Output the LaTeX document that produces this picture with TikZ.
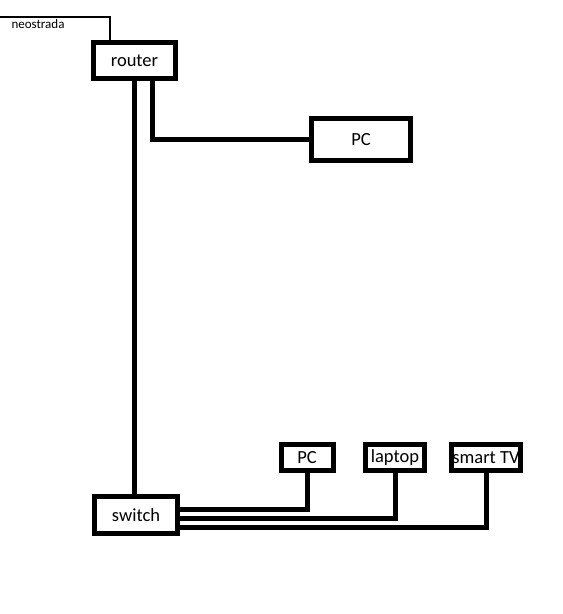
\documentclass[tikz,border=0pt]{standalone}
\usepackage{fontspec}
\setmainfont{Carlito}
\begin{document}
\begin{tikzpicture}[x=1pt,y=-1pt,
    box/.style={draw,line width=5pt,inner sep=0pt,font=\fontsize{18.5}{20}\selectfont},
    cable/.style={line width=5pt,line cap=rect}]
    \useasboundingbox (0,0) rectangle (563,614);

    % Devices
    \node[box,minimum width=82pt,minimum height=36pt] (router) at (134.5,60.5) {router};
    \node[box,minimum width=99pt,minimum height=42pt] (pc1) at (361,139.5) {PC};
    \node[box,minimum width=83pt,minimum height=37pt] (switch) at (136,515) {switch};
    \node[box,minimum width=52pt,minimum height=26pt] (pc2) at (307,457.5) {PC};
    \node[box,minimum width=59pt,minimum height=26pt] (laptop) at (395,457.5) {laptop};
    \node[box,minimum width=69pt,minimum height=26pt] (tv) at (486,457.5) {smart TV};

    % Uplink
    \coordinate (isp) at (0,17);
    \draw[line width=2.5pt] (isp) -| ([xshift=-24.5pt]router.north);
    \node[font=\fontsize{13}{14}\selectfont] (neo) at (38,24) {neostrada};

    % Cables
    \draw[cable] (router.south) -- (router.south |- switch.north);
    \draw[cable] ([xshift=17.5pt]router.south) |- (pc1.west);
    \draw[cable] ([yshift=6pt]switch.east) -| (pc2.south);
    \draw[cable] ([yshift=-3pt]switch.east) -| (laptop.south);
    \draw[cable] ([yshift=-12pt]switch.east) -| (tv.south);
\end{tikzpicture}
\end{document}
